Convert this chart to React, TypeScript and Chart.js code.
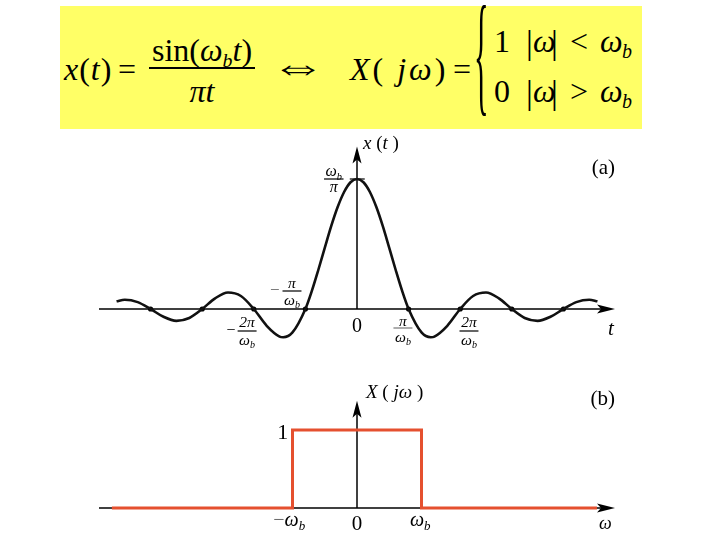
import React, { useEffect, useRef } from "react";
import { Chart, registerables } from "chart.js";

Chart.register(...registerables);

// ---------- data ----------
// (a) x(t) in units of ωb/π, t in units of π/ωb
const tValues = [
  -4.66, -4.5, -4.25, -4, -3.75, -3.5, -3.25, -3, -2.75, -2.5, -2.25, -2,
  -1.75, -1.5, -1.43, -1.25, -1, -0.875, -0.75, -0.625, -0.5, -0.375, -0.25, -0.125, 0,
  0.125, 0.25, 0.375, 0.5, 0.625, 0.75, 0.875, 1, 1.25, 1.43, 1.5, 1.75, 2,
  2.25, 2.5, 2.75, 3, 3.25, 3.5, 3.75, 4, 4.25, 4.5, 4.66,
];
const xValues = [
  0.059, 0.071, 0.053, 0, -0.06, -0.091, -0.069, 0, 0.082, 0.127, 0.1, 0,
  -0.129, -0.212, -0.217, -0.18, 0, 0.139, 0.3, 0.47, 0.637, 0.784, 0.9, 0.975, 1,
  0.975, 0.9, 0.784, 0.637, 0.47, 0.3, 0.139, 0, -0.18, -0.217, -0.212, -0.129, 0,
  0.1, 0.127, 0.082, 0, -0.069, -0.091, -0.06, 0, 0.053, 0.071, 0.059,
];
const zeroCrossings = [-4, -3, -2, -1, 1, 2, 3, 4];

// (b) X(jω), ω in units of ωb
const wValues = [-3.8, -1, -1, 1, 1, 3.72];
const XValues = [0, 0, 1, 1, 0, 0];

// ---------- helpers ----------
const SERIF = '"Liberation Serif", "Times New Roman", "DejaVu Serif", serif';
const font = (size: number, italic = false) =>
  `${italic ? "italic " : ""}${size}px ${SERIF}`;

type Run = { t: string; i?: boolean; sub?: boolean; color?: string };

function measureRuns(ctx: CanvasRenderingContext2D, runs: Run[], size: number) {
  let w = 0;
  for (const r of runs) {
    ctx.font = font(r.sub ? size * 0.65 : size, r.i);
    w += ctx.measureText(r.t).width;
  }
  return w;
}

function drawRuns(
  ctx: CanvasRenderingContext2D,
  runs: Run[],
  x: number,
  base: number,
  size: number,
  align: "left" | "center" | "right" = "left"
) {
  const w = measureRuns(ctx, runs, size);
  let cx = align === "center" ? x - w / 2 : align === "right" ? x - w : x;
  ctx.textAlign = "left";
  ctx.textBaseline = "alphabetic";
  for (const r of runs) {
    const s = r.sub ? size * 0.65 : size;
    ctx.font = font(s, r.i);
    ctx.fillStyle = r.color || "#000";
    ctx.fillText(r.t, cx, base + (r.sub ? size * 0.22 : 0));
    cx += ctx.measureText(r.t).width;
  }
  return w;
}

function drawFrac(
  ctx: CanvasRenderingContext2D,
  num: Run[],
  den: Run[],
  cx: number,
  barY: number,
  size: number,
  numGap: number,
  denGap: number,
  barColor = "#000"
) {
  const w = Math.max(measureRuns(ctx, num, size), measureRuns(ctx, den, size)) + 3;
  ctx.fillStyle = barColor;
  ctx.fillRect(cx - w / 2, barY - 0.6, w, 1.2);
  drawRuns(ctx, num, cx, barY - numGap, size, "center");
  drawRuns(ctx, den, cx, barY + denGap, size, "center");
  return w;
}

function drawAxes(chart: any, yTopValue: number) {
  const { ctx, scales } = chart;
  const x = scales.x;
  const y = scales.y;
  const y0 = y.getPixelForValue(0);
  const x0 = x.getPixelForValue(0);
  const xr = x.right;
  const xl = x.left;
  const yt = y.getPixelForValue(yTopValue);
  ctx.save();
  ctx.strokeStyle = "#000";
  ctx.fillStyle = "#000";
  ctx.lineWidth = 1.5;
  ctx.beginPath();
  ctx.moveTo(xl, y0);
  ctx.lineTo(xr - 12, y0);
  ctx.stroke();
  ctx.beginPath();
  ctx.moveTo(xr, y0);
  ctx.lineTo(xr - 18, y0 - 4.5);
  ctx.lineTo(xr - 14, y0);
  ctx.lineTo(xr - 18, y0 + 4.5);
  ctx.closePath();
  ctx.fill();
  ctx.beginPath();
  ctx.moveTo(x0, y0);
  ctx.lineTo(x0, yt + 10);
  ctx.stroke();
  ctx.beginPath();
  ctx.moveTo(x0, yt);
  ctx.lineTo(x0 - 4.5, yt + 17);
  ctx.lineTo(x0, yt + 13);
  ctx.lineTo(x0 + 4.5, yt + 17);
  ctx.closePath();
  ctx.fill();
  ctx.restore();
}

const wb: Run[] = [{ t: "ω", i: true }, { t: "b", i: true, sub: true }];

const axesA = {
  id: "axesA",
  beforeDatasetsDraw(chart: any) {
    drawAxes(chart, 1.25);
    const { ctx, scales } = chart;
    const x = scales.x;
    const y = scales.y;
    const py = y.getPixelForValue(1);
    ctx.save();
    ctx.strokeStyle = "#000";
    ctx.lineWidth = 1.2;
    ctx.beginPath();
    ctx.moveTo(x.getPixelForValue(-0.14), py);
    ctx.lineTo(x.getPixelForValue(0.15), py);
    ctx.stroke();
    ctx.restore();
  },
  afterDraw(chart: any) {
    const { ctx, scales } = chart;
    const x = scales.x;
    const y = scales.y;
    const xp = (v: number) => x.getPixelForValue(v);
    const y0 = y.getPixelForValue(0);
    const y1 = y.getPixelForValue(1);
    const yt = y.getPixelForValue(1.25);
    ctx.save();
    drawRuns(ctx, [{ t: "x", i: true }, { t: " (" }, { t: "t", i: true }, { t: " )" }], xp(0) + 6, yt + 2, 19);
    drawRuns(ctx, [{ t: "(a)" }], x.right, y1 - 5, 21, "right");
    drawFrac(ctx, wb, [{ t: "π", i: true }], xp(-0.45), y1, 16, 3, 13);
    drawRuns(ctx, [{ t: "0" }], xp(0), y0 + 23, 20, "center");
    drawFrac(ctx, [{ t: "π", i: true }], wb, xp(0.89), y0 + 19, 15.5, 2.5, 14, "#777");
    drawFrac(ctx, [{ t: "2π", i: true }], wb, xp(2.17), y0 + 22, 15.5, 4, 14);
    {
      const cx = xp(-2.13);
      const w = drawFrac(ctx, [{ t: "2π", i: true }], wb, cx, y0 + 22, 15.5, 4, 14);
      drawRuns(ctx, [{ t: "−" }], cx - w / 2 - 2, y0 + 26, 16, "right");
    }
    {
      const cx = xp(-1.26);
      const w = drawFrac(ctx, [{ t: "π", i: true }], wb, cx, y0 - 18, 15.5, 3, 14);
      drawRuns(ctx, [{ t: "−", color: "#666" }], cx - w / 2 - 3, y0 - 14, 17, "right");
    }
    drawRuns(ctx, [{ t: "t", i: true }], x.right - 7, y0 + 26, 21);
    ctx.restore();
  },
};

const axesB = {
  id: "axesB",
  beforeDatasetsDraw(chart: any) {
    drawAxes(chart, 1.375);
  },
  afterDraw(chart: any) {
    const { ctx, scales } = chart;
    const x = scales.x;
    const y = scales.y;
    const xp = (v: number) => x.getPixelForValue(v);
    const y0 = y.getPixelForValue(0);
    const y1 = y.getPixelForValue(1);
    const yt = y.getPixelForValue(1.375);
    ctx.save();
    drawRuns(
      ctx,
      [{ t: "X", i: true }, { t: " ( " }, { t: "j", i: true }, { t: "ω", i: true }, { t: " )" }],
      xp(0) + 9,
      yt - 3,
      19
    );
    drawRuns(ctx, [{ t: "(b)" }], x.right, y1 - 25, 21, "right");
    drawRuns(ctx, [{ t: "1" }], xp(-1.15), y1 + 9, 22, "center");
    drawRuns(ctx, [{ t: "−", color: "#666" }, ...wb], xp(-1.05), y0 + 18, 20, "center");
    drawRuns(ctx, [{ t: "0" }], xp(0), y0 + 22, 21, "center");
    drawRuns(ctx, wb, xp(0.98), y0 + 18, 20, "center");
    drawRuns(ctx, [{ t: "ω", i: true }], x.right - 16, y0 + 21, 18);
    ctx.restore();
  },
};

// ---------- HTML text helpers ----------
function Txt(props: any) {
  const { x, base, size, center, children, family, style } = props;
  return (
    <span
      style={{
        position: "absolute",
        left: x,
        top: base - 0.8375 * size,
        fontSize: size,
        lineHeight: `${size}px`,
        fontFamily: family || SERIF,
        whiteSpace: "nowrap",
        color: "#000",
        transform: center ? "translateX(-50%)" : undefined,
        ...style,
      }}
    >
      {children}
    </span>
  );
}
const Sb = (p: any) => (
  <span style={{ fontSize: "0.62em", fontStyle: "italic", position: "relative", top: "0.3em" }}>
    {p.children}
  </span>
);
const I = (p: any) => <span style={{ fontStyle: "italic" }}>{p.children}</span>;

export default function App() {
  const refA = useRef<HTMLCanvasElement>(null);
  const refB = useRef<HTMLCanvasElement>(null);

  useEffect(() => {
    const chartA = new Chart(refA.current as HTMLCanvasElement, {
      type: "line",
      data: {
        datasets: [
          {
            data: tValues.map((t, k) => ({ x: t, y: xValues[k] })),
            borderColor: "#111",
            borderWidth: 2.6,
            pointRadius: 0,
            cubicInterpolationMode: "monotone",
            fill: false,
          } as any,
          {
            data: zeroCrossings.map((t) => ({ x: t, y: 0 })),
            showLine: false,
            pointRadius: 2.6,
            pointBackgroundColor: "#000",
            pointBorderWidth: 0,
            borderColor: "#000",
          } as any,
        ],
      },
      options: {
        responsive: false,
        animation: false,
        events: [],
        layout: { padding: { left: 99, right: 105, top: 10, bottom: 9 } },
        plugins: { legend: { display: false }, tooltip: { enabled: false } },
        scales: {
          x: { type: "linear", min: -5, max: 5, display: false },
          y: { type: "linear", min: -0.4, max: 1.3, display: false },
        },
      },
      plugins: [axesA],
    });

    const chartB = new Chart(refB.current as HTMLCanvasElement, {
      type: "line",
      data: {
        datasets: [
          {
            data: wValues.map((w, k) => ({ x: w, y: XValues[k] })),
            borderColor: "#e5502f",
            borderWidth: 3,
            pointRadius: 0,
            tension: 0,
            fill: false,
            borderJoinStyle: "miter",
          } as any,
        ],
      },
      options: {
        responsive: false,
        animation: false,
        events: [],
        layout: { padding: { left: 99, right: 105, top: 21, bottom: 8.6 } },
        plugins: { legend: { display: false }, tooltip: { enabled: false } },
        scales: {
          x: { type: "linear", min: -4, max: 4, display: false },
          y: { type: "linear", min: -0.3, max: 1.5, display: false },
        },
      },
      plugins: [axesB],
    });

    return () => {
      chartA.destroy();
      chartB.destroy();
    };
  }, []);

  return (
    <div
      style={{
        position: "fixed",
        left: 0,
        top: 0,
        width: 720,
        height: 540,
        background: "#fff",
        overflow: "hidden",
      }}
    >
      <div
        style={{
          position: "absolute",
          left: 60,
          top: 6,
          width: 582,
          height: 123,
          background: "#ffff66",
        }}
      />
      <Txt x={64} base={80} size={32} style={{ letterSpacing: 1 }}>
        <I>x</I>(<I>t</I>)
      </Txt>
      <Txt x={118} base={80} size={32}>=</Txt>
      <Txt x={202} base={61} size={32} center>
        sin(<I>ω</I>
        <Sb>b</Sb>
        <I>t</I>)
      </Txt>
      <div style={{ position: "absolute", left: 149, top: 67, width: 106, height: 2, background: "#000" }} />
      <Txt x={202} base={102} size={32} center>
        <I>πt</I>
      </Txt>
      <Txt
        x={298}
        base={82}
        size={46}
        center
        family={'"DejaVu Sans", sans-serif'}
        style={{ transform: "translateX(-50%) scale(1.2, 0.9)", fontWeight: 300 }}
      >
        ⇔
      </Txt>
      <Txt x={350} base={80} size={32} style={{ letterSpacing: 3 }}>
        <I>X</I>( <I>jω</I>)
      </Txt>
      <Txt x={453} base={80} size={32}>=</Txt>
      <span
        style={{
          position: "absolute",
          left: 474,
          top: 2,
          fontSize: 32,
          lineHeight: "32px",
          fontFamily: SERIF,
          transform: "scale(0.95, 4.15)",
          transformOrigin: "0 5px",
        }}
      >
        {"{"}
      </span>
      <Txt x={494} base={52} size={32}>1</Txt>
      <Txt x={526} base={54} size={34}>|</Txt>
      <Txt x={533} base={52} size={32}><I>ω</I></Txt>
      <Txt x={551} base={54} size={34}>|</Txt>
      <Txt x={570} base={52} size={32}>&lt;</Txt>
      <Txt x={600} base={52} size={32}><I>ω</I></Txt>
      <Txt x={622} base={58} size={20}><I>b</I></Txt>
      <Txt x={494} base={102} size={32}>0</Txt>
      <Txt x={526} base={104} size={34}>|</Txt>
      <Txt x={533} base={102} size={32}><I>ω</I></Txt>
      <Txt x={551} base={104} size={34}>|</Txt>
      <Txt x={570} base={102} size={32}>&gt;</Txt>
      <Txt x={600} base={102} size={32}><I>ω</I></Txt>
      <Txt x={622} base={108} size={20}><I>b</I></Txt>

      <canvas ref={refA} width={720} height={240} style={{ position: "absolute", left: 0, top: 130 }} />
      <canvas ref={refB} width={720} height={170} style={{ position: "absolute", left: 0, top: 370 }} />
    </div>
  );
}
